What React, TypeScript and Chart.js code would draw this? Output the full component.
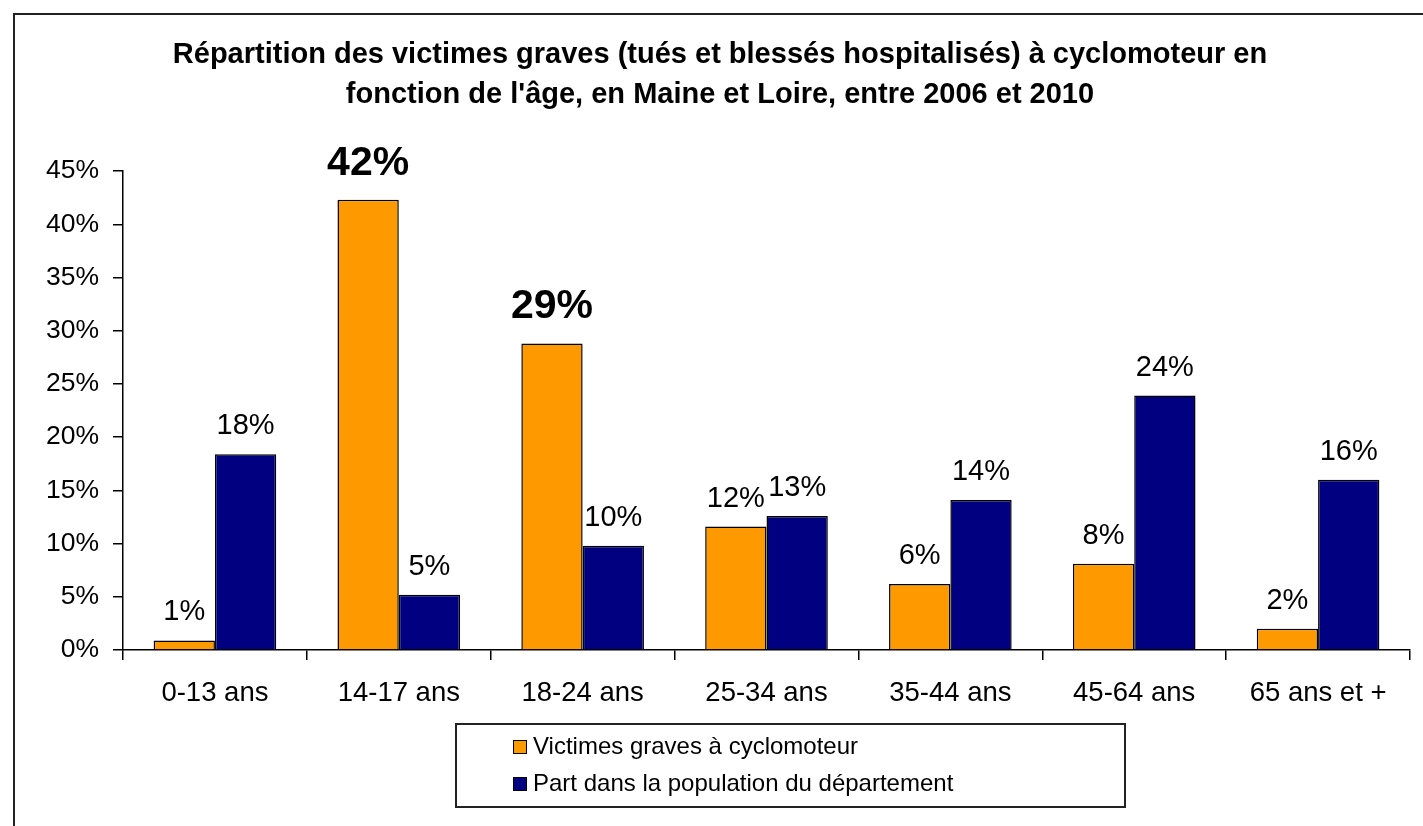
import React, { useEffect, useRef } from "react";
import { Chart, registerables } from "chart.js";

Chart.register(...registerables);

const categories = ["0-13 ans", "14-17 ans", "18-24 ans", "25-34 ans", "35-44 ans", "45-64 ans", "65 ans et +"];
const victimes = [0.9, 42.3, 28.8, 11.6, 6.2, 8.1, 2.0];
const population = [18.4, 5.2, 9.8, 12.6, 14.1, 23.9, 16.0];
const seriesLabels = ["Victimes graves à cyclomoteur", "Part dans la population du département"];
const seriesColors = ["#FF9900", "#000080"];
const highlightedVictimes = [1, 2];
const titleLines = [
  "Répartition des victimes graves (tués et blessés hospitalisés) à cyclomoteur en",
  "fonction de l'âge, en Maine et Loire, entre 2006 et 2010",
];
const yMin = 0;
const yMax = 45;
const yStep = 5;

const FONT = "'Liberation Sans', Arial, sans-serif";

const framePlugin = {
  id: "frame",
  beforeDraw(chart: any) {
    const ctx = chart.ctx;
    ctx.save();
    ctx.fillStyle = "#ffffff";
    ctx.fillRect(0, 0, chart.width, chart.height);
    ctx.strokeStyle = "#222";
    ctx.lineWidth = 2;
    ctx.beginPath();
    ctx.moveTo(14, chart.height + 5);
    ctx.lineTo(14, 14);
    ctx.lineTo(chart.width + 5, 14);
    ctx.stroke();
    ctx.restore();
  },
};

const labelsPlugin = {
  id: "valueLabels",
  afterDatasetsDraw(chart: any) {
    const ctx = chart.ctx;
    ctx.save();
    ctx.textAlign = "center";
    ctx.textBaseline = "alphabetic";
    ctx.fillStyle = "#000";
    chart.data.datasets.forEach((ds: any, di: number) => {
      const meta = chart.getDatasetMeta(di);
      meta.data.forEach((el: any, i: number) => {
        const v = ds.data[i];
        const bold = di === 0 && highlightedVictimes.includes(i);
        ctx.font = bold ? `bold 41px ${FONT}` : `29px ${FONT}`;
        ctx.fillText(`${Math.round(v)}%`, el.x, el.y - (bold ? 25 : 20));
      });
    });
    ctx.restore();
  },
};

const legendPlugin = {
  id: "boxLegend",
  afterDraw(chart: any) {
    const ctx = chart.ctx;
    ctx.save();
    const left = 456, top = 724, right = 1125, bottom = 807;
    ctx.strokeStyle = "#222";
    ctx.lineWidth = 2;
    ctx.strokeRect(left, top, right - left, bottom - top);
    ctx.font = `24px ${FONT}`;
    ctx.textBaseline = "middle";
    ctx.textAlign = "left";
    chart.data.datasets.forEach((ds: any, di: number) => {
      const cy = 747 + di * 37;
      ctx.fillStyle = ds.backgroundColor;
      ctx.fillRect(513, cy - 7, 14, 14);
      ctx.strokeStyle = "#000";
      ctx.lineWidth = 1;
      ctx.strokeRect(513.5, cy - 6.5, 13, 13);
      ctx.fillStyle = "#000";
      ctx.fillText(ds.label, 533, cy);
    });
    ctx.restore();
  },
};

export default function App() {
  const ref = useRef<HTMLCanvasElement | null>(null);
  useEffect(() => {
    if (!ref.current) return;
    const chart = new Chart(ref.current, {
      type: "bar",
      data: {
        labels: categories,
        datasets: [
          {
            label: seriesLabels[0],
            data: victimes,
            backgroundColor: seriesColors[0],
            borderColor: "#000",
            borderWidth: 1.5,
            categoryPercentage: 0.667,
            barPercentage: 1,
          },
          {
            label: seriesLabels[1],
            data: population,
            backgroundColor: seriesColors[1],
            borderColor: "#000",
            borderWidth: 1.5,
            categoryPercentage: 0.667,
            barPercentage: 1,
          },
        ],
      },
      options: {
        responsive: false,
        animation: false,
        devicePixelRatio: 1,
        layout: { padding: { left: 30, right: 13, top: 0, bottom: 0 } },
        plugins: {
          legend: { display: false },
          tooltip: { enabled: false },
          title: {
            display: true,
            text: titleLines,
            color: "#000",
            font: { family: FONT, size: 29, weight: "bold", lineHeight: 1.38 },
            padding: { top: 35, bottom: 56 },
          },
        },
        scales: {
          x: {
            grid: {
              offset: true,
              drawOnChartArea: false,
              drawTicks: true,
              tickLength: 10,
              color: "#000",
              lineWidth: 1.5,
            },
            border: { display: true, color: "#000", width: 1.5 },
            ticks: {
              color: "#000",
              font: { family: FONT, size: 27.5 },
              padding: 17,
              maxRotation: 0,
              autoSkip: false,
            },
            afterFit(scale: any) {
              scale.height = 176;
            },
          },
          y: {
            min: yMin,
            max: yMax,
            grid: {
              drawOnChartArea: false,
              drawTicks: true,
              tickLength: 10,
              color: "#000",
              lineWidth: 1.5,
            },
            border: { display: true, color: "#000", width: 1.5 },
            ticks: {
              stepSize: yStep,
              color: "#000",
              font: { family: FONT, size: 26.5 },
              padding: 14,
              callback: (v: any) => `${v}%`,
            },
            afterFit(scale: any) {
              scale.width = 93;
            },
          },
        },
      },
      plugins: [framePlugin, labelsPlugin, legendPlugin],
    });
    return () => chart.destroy();
  }, []);
  return (
    <div style={{ position: "fixed", left: 0, top: 0, width: 1423, height: 826, background: "#fff" }}>
      <canvas ref={ref} width={1423} height={826} style={{ width: 1423, height: 826, display: "block" }} />
    </div>
  );
}
